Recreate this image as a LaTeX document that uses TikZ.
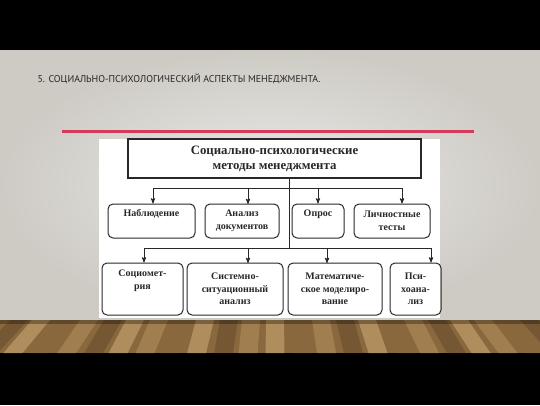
\documentclass[tikz,border=0pt]{standalone}
\usepackage{fontspec}
\setmainfont{Liberation Serif}
\newfontfamily\slidefont{PT Sans}
\usetikzlibrary{arrows, positioning}
\definecolor{slidegray}{RGB}{221,219,214}
\definecolor{slideedge}{RGB}{206,203,197}
\definecolor{rulered}{RGB}{210,60,90}
\definecolor{inkgray}{RGB}{40,40,40}
\definecolor{woodA}{RGB}{138,104,62}
\definecolor{woodB}{RGB}{170,134,86}
\definecolor{woodC}{RGB}{112,82,48}
\definecolor{woodD}{RGB}{190,154,104}
\tikzset{
>=stealth', % small filled arrow heads
method/.style={draw=inkgray, line width=1pt, rounded corners=5pt, align=center,
  inner sep=1pt, font=\bfseries\fontsize{10}{12.5}\selectfont, text=inkgray}, % every method box
rootbox/.style={draw=inkgray, line width=1.2pt, align=center,
  font=\bfseries\fontsize{12.8}{15}\selectfont, text=inkgray}, % the top box
link/.style={draw=inkgray, line width=0.9pt}, % connector lines
}
\begin{document}
\begin{tikzpicture}[x=1pt, y=-1pt]
  % frame and slide
  \fill[black] (0,0) rectangle (540,405);
  \useasboundingbox (0,0) rectangle (540,405);
  \shade[inner color=slidegray!60!white, outer color=slideedge] (0,50) rectangle (540,321);
  % wooden floor
  \fill[woodA] (0,320) rectangle (540,353);
  \foreach \x/\c in {-20/woodB,10/woodC,32/woodD,55/woodA,80/woodB,104/woodC,126/woodD,150/woodB,
      172/woodA,196/woodD,220/woodC,242/woodB,266/woodD,290/woodA,312/woodB,336/woodC,
      358/woodD,382/woodA,404/woodB,428/woodC,450/woodD,474/woodB,498/woodA,520/woodC,544/woodD}
    \fill[\c, opacity=0.75] (\x,320) -- (\x+18,320) -- ({\x+18+(\x-262)*0.12},353) -- ({\x+(\x-270)*0.12},353) -- cycle;
  \fill[black, opacity=0.3] (0,320) rectangle (540,324);
  % title and rule
  \node[anchor=west, font=\slidefont\fontsize{9.9}{12}\selectfont, text=inkgray] (title)
    at (34,79) {5. СОЦИАЛЬНО-ПСИХОЛОГИЧЕСКИЙ АСПЕКТЫ МЕНЕДЖМЕНТА.};
  \fill[rulered] (62,130.3) rectangle (474,132.8);
  % white panel of the chart
  \fill[white] (99,139) rectangle (440,318);

  \node[rootbox, minimum width=293pt, minimum height=39pt] (root) at (274.5,158.5)
    {Социально-психологические\\методы менеджмента};

  \node[method, minimum width=87pt, minimum height=34pt] (nab) at (151.5,221) {Наблюдение\\[3pt]};
  \node[method, minimum width=74pt, minimum height=34pt] (doc) at (242,221) {Анализ\\документов};
  \node[method, minimum width=52pt, minimum height=34pt] (opros) at (318,221) {Опрос\\[3pt]};
  \node[method, minimum width=76pt, minimum height=34pt] (tests) at (392,221) {Личностные\\тесты};

  \node[method, minimum width=81pt, minimum height=52pt] (socio) at (142.5,289) {Социомет-\\рия\\[6pt]};
  \node[method, minimum width=96pt, minimum height=52pt] (system) at (235,289) {Системно-\\ситуационный\\анализ};
  \node[method, minimum width=94pt, minimum height=52pt] (model) at (335,289) {Математиче-\\ское моделиро-\\вание};
  \node[method, minimum width=51pt, minimum height=52pt] (psycho) at (415.5,289) {Пси-\\хоана-\\лиз};

  \coordinate (trunk) at (289,248);
  \coordinate (barA) at (153,188);
  \coordinate (barB) at (402,188);
  \coordinate (barC) at (144,248);
  \coordinate (barD) at (431,248);

  \draw[link] (root.south -| trunk) -- (trunk);
  \draw[link] (barA) -- (barB);
  \draw[link] (barC) -- (barD);
  \draw[link, ->] (barA) -- (barA |- nab.north);
  \draw[link, ->] (248,188) -- (248,204);
  \draw[link, ->] (318,188) -- (opros.north);
  \draw[link, ->] (barB) -- (barB |- tests.north);
  \draw[link, ->] (barC) -- (barC |- socio.north);
  \draw[link, ->] (248,248) -- (248,263);
  \draw[link, ->] (327,248) -- (327,263);
  \draw[link, ->] (barD) -- (barD |- psycho.north);
\end{tikzpicture}
\end{document}
